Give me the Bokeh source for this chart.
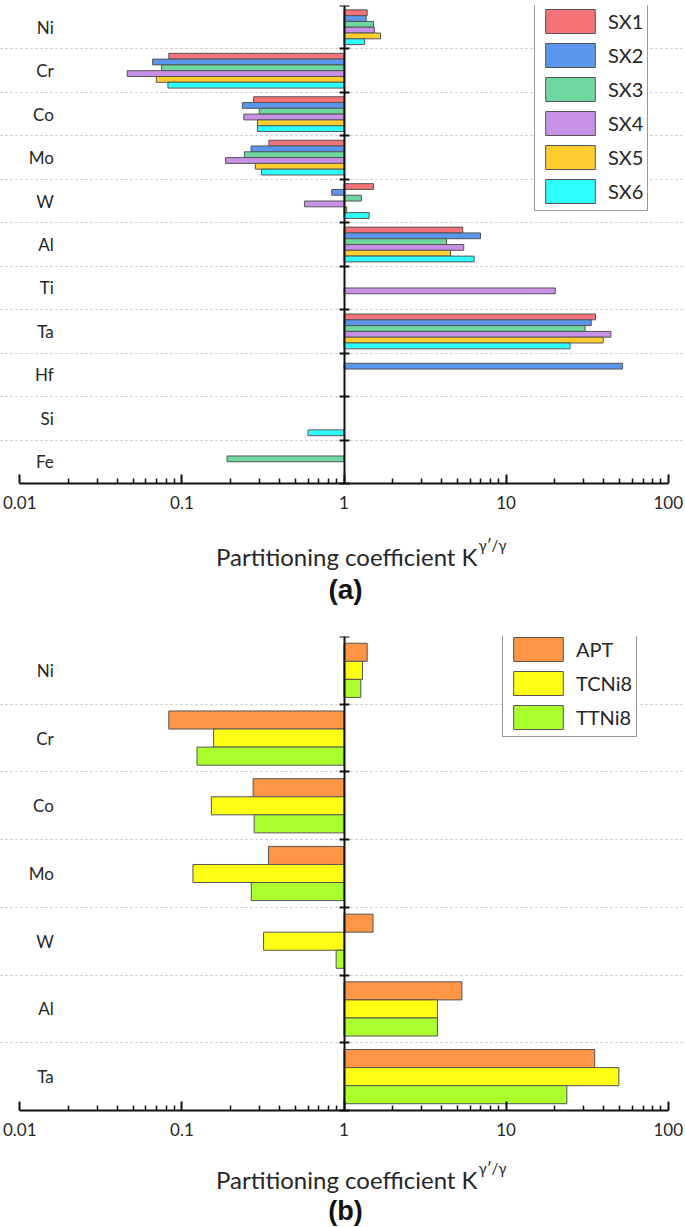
import math
from bokeh.plotting import figure
from bokeh.models import (Range1d, FixedTicker, LinearAxis, Legend, LegendItem, Label,
                          CustomJSTickFormatter)
from bokeh.layouts import column
from bokeh.embed import file_html
from bokeh.resources import INLINE
from bokeh.core.properties import value

# ---------------- data (a) ----------------
elements_a = ["Ni", "Cr", "Co", "Mo", "W", "Al", "Ti", "Ta", "Hf", "Si", "Fe"]
series_a = ["SX1", "SX2", "SX3", "SX4", "SX5", "SX6"]
SX1 = [1.39, 0.083, 0.277, 0.344, 1.52, 5.40, None, 35.6, None, None, None]
SX2 = [1.37, 0.066, 0.236, 0.267, 0.84, 6.95, None, 33.5, 52.3, None, None]
SX3 = [1.52, 0.075, 0.300, 0.243, 1.28, 4.29, None, 30.7, None, None, 0.19]
SX4 = [1.54, 0.046, 0.241, 0.186, 0.57, 5.48, 20.1, 44.3, None, None, None]
SX5 = [1.68, 0.0695, 0.293, 0.284, 1.04, 4.54, None, 39.7, None, None, None]
SX6 = [1.34, 0.082, 0.293, 0.310, 1.43, 6.35, None, 24.8, None, 0.60, None]
colors_a = ["#f47378", "#5a96eb", "#6ed7a0", "#c891e6", "#ffcd2d", "#2dffff"]

# ---------------- data (b) ----------------
elements_b = ["Ni", "Cr", "Co", "Mo", "W", "Al", "Ta"]
series_b = ["APT", "TCNi8", "TTNi8"]
APT = [1.39, 0.083, 0.275, 0.342, 1.51, 5.34, 35.2]
TCNi8 = [1.30, 0.157, 0.152, 0.117, 0.319, 3.77, 49.6]
TTNi8 = [1.27, 0.124, 0.279, 0.268, 0.894, 3.77, 23.7]
colors_b = ["#ff9646", "#ffff14", "#aaff2d"]

x_ticks = [0.01, 0.1, 1, 10, 100]
x_title = "Partitioning coefficient K"
x_title_sup = "γ′/γ"

FONT = "Lato"
TXT = "#262626"

W = 685
PAD_L, PAD_R = 19.3, 17.3          # room left/right of the 0.01 ... 100 span (px)


def make_panel(cats, names, values, colors, height, border_top, band_px,
               legend_xy, letter, title_y, letter_y, letter_size):
    n = len(cats)
    k = len(names)
    slot = 0.8 / k
    frame_h = height - border_top
    start = n - frame_h / band_px        # room below the bars for the axis texts
    lo, hi = math.log10(x_ticks[0]), math.log10(x_ticks[-1])
    dec_px = (W - PAD_L - PAD_R) / (hi - lo)
    x_lo = 10 ** (lo - PAD_L / dec_px)
    x_hi = 10 ** (hi + PAD_R / dec_px)
    p = figure(width=W, height=height, x_axis_type="log",
               x_range=Range1d(x_lo, x_hi), y_range=Range1d(start, n),
               output_backend="svg", toolbar_location=None, y_axis_location=None,
               min_border_left=0, min_border_right=0,
               min_border_top=border_top, min_border_bottom=0)
    p.outline_line_color = None
    p.background_fill_color = "white"
    p.border_fill_color = "white"
    p.xgrid.visible = False
    p.ygrid.ticker = FixedTicker(ticks=list(range(1, n)))
    p.ygrid.bounds = (x_ticks[0], x_ticks[-1])
    p.ygrid.grid_line_color = "#bdbdbd"
    p.ygrid.grid_line_dash = "2 3"
    p.ygrid.grid_line_width = 1

    # x axis (drawn at y = 0, the bottom of the bars)
    minor = [m * 10.0 ** e for e in range(-2, 2) for m in range(2, 10)]
    ax = p.xaxis[0]
    ax.fixed_location = 0
    ax.bounds = (x_ticks[0], x_ticks[-1])
    ax.ticker = FixedTicker(ticks=x_ticks, minor_ticks=minor)
    ax.formatter = CustomJSTickFormatter(code="return String(tick)")
    ax.axis_line_width = 2
    ax.axis_line_color = "#111111"
    ax.major_tick_in = 9
    ax.major_tick_out = 0
    ax.minor_tick_in = 5
    ax.minor_tick_out = 0
    ax.major_tick_line_width = 2
    ax.minor_tick_line_width = 1.5
    ax.major_tick_line_color = "#111111"
    ax.minor_tick_line_color = "#111111"
    ax.major_label_text_font = FONT
    ax.major_label_text_font_size = "17px"
    ax.major_label_text_color = TXT
    ax.major_label_standoff = 12

    # vertical axis through x = 1
    yax = LinearAxis(fixed_location=1, ticker=FixedTicker(ticks=list(range(0, n + 1))),
                     formatter=CustomJSTickFormatter(code="return ''"), bounds=(0, n),
                     major_tick_in=5, major_tick_out=5, minor_tick_in=0, minor_tick_out=0,
                     axis_line_width=2, major_tick_line_width=2,
                     axis_line_color="#111111", major_tick_line_color="#111111",
                     major_label_standoff=0)
    p.add_layout(yax, "left")

    # bars
    items = []
    for j, (name, vals, col) in enumerate(zip(names, values, colors)):
        ys, rights = [], []
        for i, v in enumerate(vals):
            if v is None:
                continue
            ys.append(n - i - 0.5 + (k - 1) / 2 * slot - j * slot)
            rights.append(v)
        r = p.hbar(y=ys, left=1, right=rights, height=slot, fill_color=col,
                   line_color="#555555", line_width=1)
        items.append(LegendItem(label=name, renderers=[r]))

    # category labels
    p.text(x=[x_ticks[0]] * n, y=[n - i - 0.5 for i in range(n)], text=cats,
           x_offset=34, text_align="right", text_baseline="middle",
           text_font=value(FONT), text_font_size="17px", text_color=TXT)

    legend = Legend(items=items, location=legend_xy, glyph_width=62, glyph_height=30,
                    spacing=4, padding=4, margin=0, label_standoff=7,
                    label_text_font=FONT, label_text_font_size="20px",
                    label_text_color=TXT, border_line_color="#333333",
                    border_line_width=1, background_fill_color="white",
                    background_fill_alpha=1)
    p.add_layout(legend)

    # axis title with superscript and panel letter
    p.add_layout(Label(x=477, y=title_y, x_units="screen", y_units="screen",
                       text=x_title, text_align="right", text_baseline="alphabetic",
                       text_font=FONT, text_font_size="24px", text_color=TXT))
    p.add_layout(Label(x=478, y=title_y + 12, x_units="screen", y_units="screen",
                       text=x_title_sup, text_align="left", text_baseline="alphabetic",
                       text_font=FONT, text_font_size="15px", text_color=TXT))
    p.add_layout(Label(x=345, y=letter_y, x_units="screen", y_units="screen",
                       text=letter, text_align="center", text_baseline="middle",
                       text_font="Liberation Sans", text_font_style="bold",
                       text_font_size=letter_size, text_color="#111111"))
    return p


p1 = make_panel(elements_a, series_a, [SX1, SX2, SX3, SX4, SX5, SX6], colors_a,
                height=610, border_top=5, band_px=478 / 11,
                legend_xy=(534, 399), letter="(a)", title_y=54, letter_y=21,
                letter_size="28px")
p2 = make_panel(elements_b, series_b, [APT, TCNi8, TTNi8], colors_b,
                height=617, border_top=26, band_px=474 / 7,
                legend_xy=(502, 490), letter="(b)", title_y=48, letter_y=17,
                letter_size="27px")

layout = column(p1, p2, spacing=0)
open("out.html", "w").write(file_html(layout, INLINE))
